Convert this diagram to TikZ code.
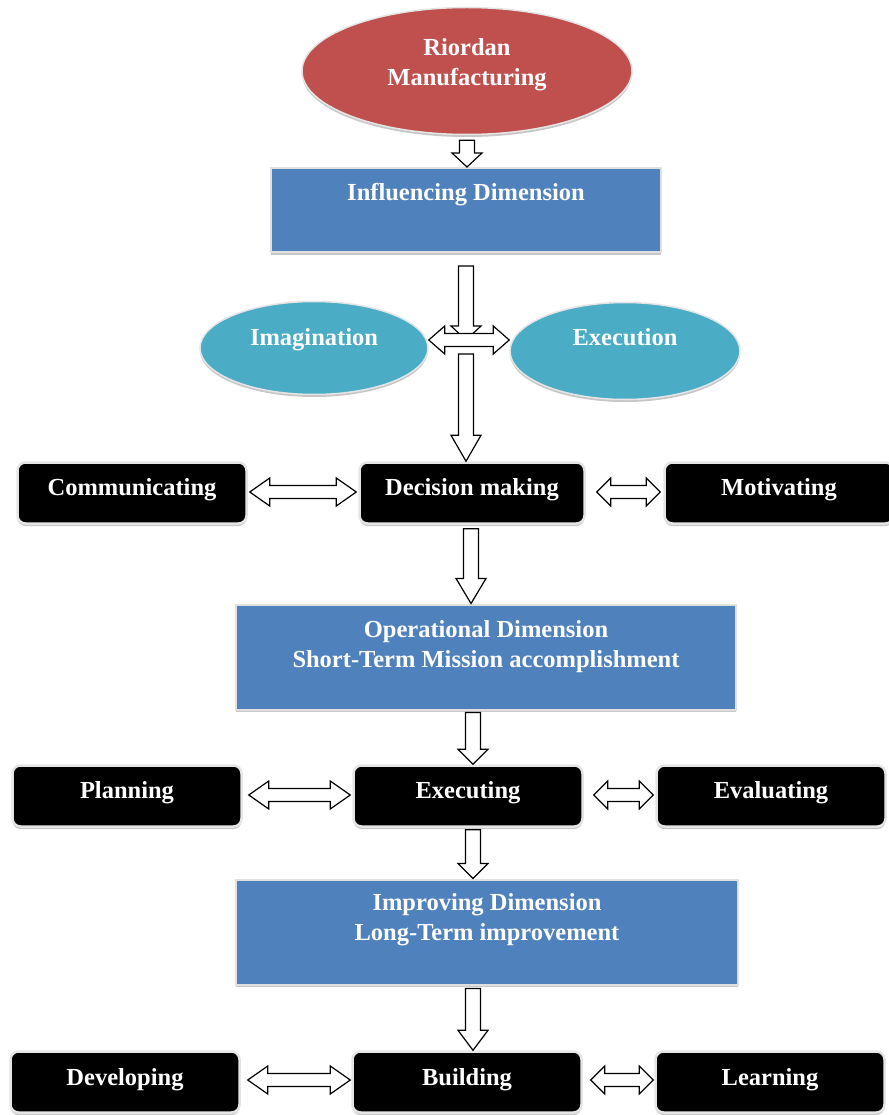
\documentclass[tikz,border=0pt]{standalone}
\usepackage{fontspec}
\setmainfont{Liberation Serif}
\usetikzlibrary{shapes.geometric,calc,shadows}

\definecolor{rmred}{HTML}{C0504D}
\definecolor{dimblue}{HTML}{4F81BD}
\definecolor{ovalteal}{HTML}{4BACC6}

% lift a label inside its shape without changing the shape's size
\newcommand\up[2]{\raisebox{#1pt}[0pt][0pt]{#2}}
\newcommand\twolines[2]{\begin{tabular}{@{}c@{}}#1\\#2\end{tabular}}

% hollow block arrow pointing down: [head length]{tail}{tip}
\newcommand\vblock[3][14]{%
  \draw[blockarrow] let \p1=#2, \p2=#3 in
    (\x1-7.5pt,\y1) -- (\x1+7.5pt,\y1) -- (\x1+7.5pt,\y2+#1pt) -- (\x1+15pt,\y2+#1pt)
    -- (\x1,\y2) -- (\x1-15pt,\y2+#1pt) -- (\x1-7.5pt,\y2+#1pt) -- cycle;}

% hollow horizontal double-headed block arrow: [head length]{left tip}{right tip}
\newcommand\hdouble[3][13]{%
  \draw[blockarrow] let \p1=#2, \p2=#3 in
    (\x1,\y1) -- (\x1+#1pt,\y1+14pt) -- (\x1+#1pt,\y1+6.5pt) -- (\x2-#1pt,\y1+6.5pt)
    -- (\x2-#1pt,\y1+14pt) -- (\x2,\y1) -- (\x2-#1pt,\y1-14pt) -- (\x2-#1pt,\y1-6.5pt)
    -- (\x1+#1pt,\y1-6.5pt) -- (\x1+#1pt,\y1-14pt) -- cycle;}

\tikzset{
  every node/.style={font=\bfseries\fontsize{24.5}{30}\selectfont, text=white},
  softshadow/.style={drop shadow={shadow xshift=0pt, shadow yshift=-2.5pt, fill=black!22, opacity=1}},
  oval/.style={ellipse, draw=black!10, line width=1.5pt, softshadow, inner sep=0pt},
  dimbox/.style={rectangle, fill=dimblue, draw=black!12, line width=2pt, softshadow,
                 inner sep=0pt, minimum height=105pt},
  taskbox/.style={rectangle, rounded corners=8pt, fill=black, draw=black!10, line width=2.5pt,
                  softshadow, inner sep=0pt, minimum height=61pt, minimum width=229pt},
  blockarrow/.style={draw=black, line width=1.2pt, fill=white, line join=miter},
}

\begin{document}
\begin{tikzpicture}[x=1pt, y=-1pt]
  \fill[white] (0,0) rectangle (888,1115);
  \useasboundingbox (0,0) rectangle (888,1115);

  % top of the hierarchy
  \node[oval, fill=rmred, minimum width=330pt, minimum height=127pt] (rm) at (467,71)
    {\up{0}{\twolines{Riordan}{Manufacturing}}};
  \node[dimbox, minimum width=390pt, minimum height=84pt] (inf) at (466,210)
    {\up{9}{Influencing Dimension}};

  \node[oval, fill=ovalteal, minimum width=228pt, minimum height=93pt] (ima) at (314,348)
    {\up{3}{Imagination}};
  \node[oval, fill=ovalteal, minimum width=230pt, minimum height=97pt] (exe) at (625,351)
    {\up{6}{Execution}};
  \coordinate (hub) at (466,340);

  % influencing row
  \node[taskbox] (com) at (132,493) {\up{-2}{Communicating}};
  \node[taskbox, minimum width=225pt] (dec) at (472,493) {\up{-2}{Decision making}};
  \node[taskbox] (mot) at (779,493) {\up{-2}{Motivating}};

  % operational dimension
  \node[dimbox, minimum width=500pt] (ope) at (486,657)
    {\up{4}{\twolines{Operational Dimension}{Short-Term Mission accomplishment}}};

  \node[taskbox] (pla) at (127,796) {\up{-2}{Planning}};
  \node[taskbox] (exg) at (468,796) {\up{-2}{Executing}};
  \node[taskbox] (eva) at (771,796) {\up{-2}{Evaluating}};

  % improving dimension
  \node[dimbox, minimum width=502pt] (imp) at (487,932)
    {\up{6}{\twolines{Improving Dimension}{Long-Term improvement}}};

  \node[taskbox] (dev) at (125,1082) {\up{-3}{Developing}};
  \node[taskbox] (bui) at (467,1082) {\up{-3}{Building}};
  \node[taskbox] (lea) at (770,1082) {\up{-3}{Learning}};

  % connectors
  \vblock[14]{($(rm.south)+(0,5)$)}{(inf.north)}
  \vblock[14]{($(hub |- inf.south)+(0,13)$)}{(hub)}
  \hdouble[16]{(ima.east |- hub)}{(exe.west |- hub)}
  \vblock[26]{($(hub)+(0,14)$)}{(dec.north)}

  \hdouble[20]{($(com.east)+(2,-1)$)}{($(dec.west)+(-2,-1)$)}
  \hdouble[14]{($(dec.east)+(11,-1)$)}{($(mot.west)+(-3,-1)$)}
  \vblock[25]{($(dec.south)+(-1,4)$)}{(ope.north)}

  \vblock[15]{($(exg.north |- ope.south)+(5,2)$)}{(exg.north)}
  \hdouble[20]{($(pla.east)+(6,-1)$)}{($(exg.west)+(-2,-1)$)}
  \hdouble[14]{($(exg.east)+(10,-1)$)}{($(eva.west)+(-2,-1)$)}
  \vblock[15]{($(exg.south)+(5,2)$)}{(imp.north)}

  \vblock[20]{($(bui.north |- imp.south)+(6,3)$)}{(bui.north)}
  \hdouble[20]{($(dev.east)+(7,-2)$)}{($(bui.west)+(-1,-2)$)}
  \hdouble[14]{($(bui.east)+(8,-2)$)}{($(lea.west)+(-1,-2)$)}
\end{tikzpicture}
\end{document}
